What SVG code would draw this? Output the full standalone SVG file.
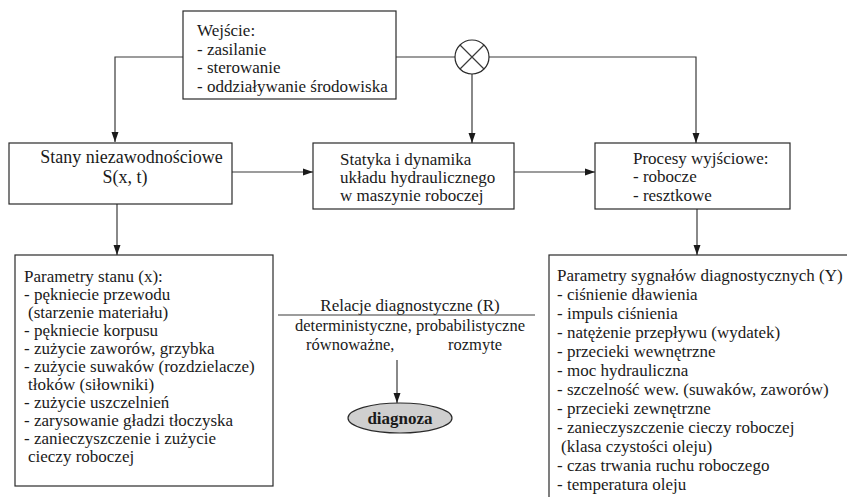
<svg xmlns="http://www.w3.org/2000/svg" width="847" height="497" viewBox="0 0 847 497" font-family="'Liberation Serif', 'Times New Roman', Tinos, 'DejaVu Serif', serif">
<style>
text{font-family:'Liberation Serif','Times New Roman',Tinos,'DejaVu Serif',serif;font-size:17px;fill:#1a1a1a}
.box{fill:#fff;stroke:#2a2a2a;stroke-width:1.2}
.ln{fill:none;stroke:#3a3a3a;stroke-width:1.2}
.c{text-anchor:middle}
.rel{font-size:16.5px}
</style>
<defs>
<marker id="ah" viewBox="0 0 10 10" refX="10" refY="5" markerWidth="10" markerHeight="10" markerUnits="userSpaceOnUse" orient="auto">
<path d="M0,1.5 L10,5 L0,8.5 Z" fill="#1a1a1a"/>
</marker>
</defs>
<rect width="847" height="497" fill="#fff"/>
<g id="connectors">
<path class="ln" d="M183,57 H115 V142" marker-end="url(#ah)"/>
<line class="ln" x1="396" y1="57" x2="455" y2="57"/>
<path class="ln" d="M489,57 H696 V143" marker-end="url(#ah)"/>
<line class="ln" x1="472" y1="74" x2="472" y2="143" marker-end="url(#ah)"/>
<line class="ln" x1="232" y1="172" x2="313" y2="172" marker-end="url(#ah)"/>
<line class="ln" x1="514" y1="172" x2="595" y2="172" marker-end="url(#ah)"/>
<line class="ln" x1="117" y1="204" x2="117" y2="255" marker-end="url(#ah)"/>
<line class="ln" x1="697" y1="209" x2="697" y2="255" marker-end="url(#ah)"/>
<line class="ln" x1="397" y1="360" x2="397" y2="403" marker-end="url(#ah)"/>
</g>
<g id="wejscie">
<rect class="box" x="183" y="11" width="213" height="88"/>
<text x="197" y="36">Wejście:</text>
<text x="197" y="54.5">- zasilanie</text>
<text x="197" y="73">- sterowanie</text>
<text x="197" y="91.5">- oddziaływanie środowiska</text>
</g>
<g id="mnoznik">
<circle cx="472" cy="57" r="17" fill="#fff" stroke="#2a2a2a" stroke-width="1.2"/>
<path class="ln" d="M460,45 L484,69 M484,45 L460,69"/>
</g>
<g id="stany">
<rect class="box" x="9" y="143" width="223" height="61"/>
<text class="c" x="131.5" y="163" font-size="18" style="font-size:18px">Stany niezawodnościowe</text>
<text class="c" x="125" y="183" font-size="18" style="font-size:18px">S(x, t)</text>
</g>
<g id="statyka">
<rect class="box" x="313" y="143" width="201" height="66"/>
<text x="340" y="165">Statyka i dynamika</text>
<text x="340" y="183">układu hydraulicznego</text>
<text x="340" y="201">w maszynie roboczej</text>
</g>
<g id="procesy">
<rect class="box" x="595" y="143" width="195" height="66"/>
<text x="633" y="164">Procesy wyjściowe:</text>
<text x="633" y="182">- robocze</text>
<text x="633" y="201">- resztkowe</text>
</g>
<g id="parametry-stanu">
<rect class="box" x="15" y="255" width="258" height="231"/>
<text x="24" y="282">Parametry stanu (x):</text>
<text x="24" y="300">- pękniecie przewodu</text>
<text x="28" y="318">(starzenie materiału)</text>
<text x="24" y="336">- pękniecie korpusu</text>
<text x="24" y="354">- zużycie zaworów, grzybka</text>
<text x="24" y="372">- zużycie suwaków (rozdzielacze)</text>
<text x="28" y="390">tłoków (siłowniki)</text>
<text x="24" y="408">- zużycie uszczelnień</text>
<text x="24" y="426">- zarysowanie gładzi tłoczyska</text>
<text x="24" y="444">- zanieczyszczenie i zużycie</text>
<text x="28" y="462">cieczy roboczej</text>
</g>
<g id="relacje">
<text class="c" x="410" y="311">Relacje diagnostyczne (R)</text>
<line class="ln" x1="278" y1="315" x2="535" y2="315"/>
<text class="c rel" x="410" y="331">deterministyczne, probabilistyczne</text>
<text class="rel" x="306" y="349.5">równoważne,</text>
<text class="rel" x="448" y="349.5">rozmyte</text>
</g>
<g id="diagnoza">
<ellipse cx="400" cy="418" rx="52" ry="15" fill="#cfcfcf" stroke="#2a2a2a" stroke-width="1.2"/>
<text class="c" x="400" y="424" font-weight="bold">diagnoza</text>
</g>
<g id="parametry-sygnalow">
<rect class="box" x="549" y="255" width="310" height="260"/>
<text x="557" y="281">Parametry sygnałów diagnostycznych (Y)</text>
<text x="557" y="300">- ciśnienie dławienia</text>
<text x="557" y="319">- impuls ciśnienia</text>
<text x="557" y="338">- natężenie przepływu (wydatek)</text>
<text x="557" y="357">- przecieki wewnętrzne</text>
<text x="557" y="376">- moc hydrauliczna</text>
<text x="557" y="395">- szczelność wew. (suwaków, zaworów)</text>
<text x="557" y="414">- przecieki zewnętrzne</text>
<text x="557" y="433">- zanieczyszczenie cieczy roboczej</text>
<text x="561" y="452">(klasa czystości oleju)</text>
<text x="557" y="471">- czas trwania ruchu roboczego</text>
<text x="557" y="490">- temperatura oleju</text>
</g>
</svg>
